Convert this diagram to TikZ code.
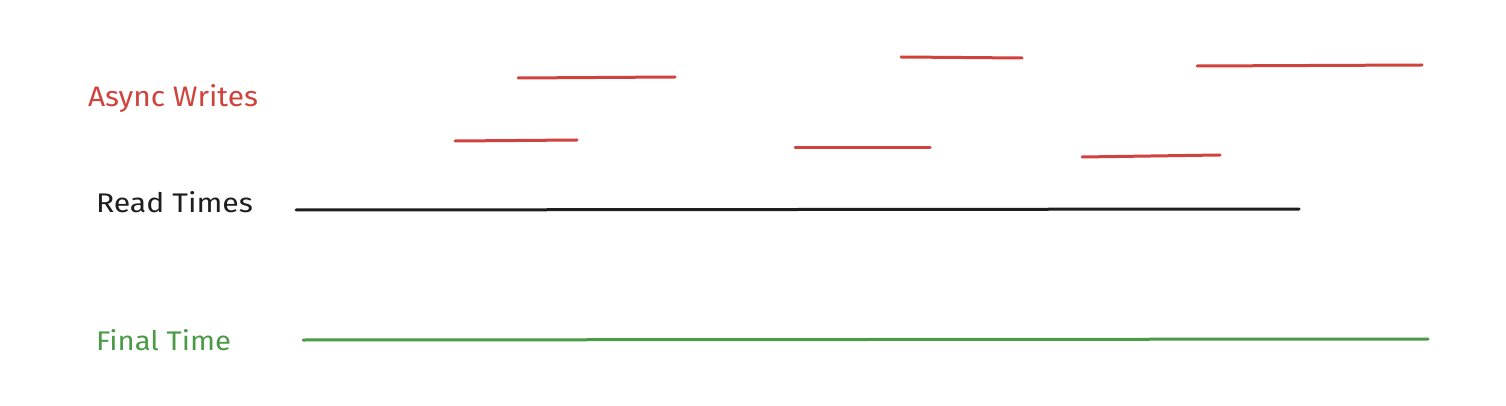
\documentclass[tikz,border=0pt]{standalone}
\usepackage{fontspec}
\setmainfont{Fira Sans}
\definecolor{wred}{HTML}{D0433D}
\definecolor{wgreen}{HTML}{4A9A46}
\definecolor{wblack}{HTML}{1E1E1E}
\tikzset{
  lbl/.style={anchor=base west, inner sep=0pt, outer sep=0pt},
  seg/.style={line width=3pt, line cap=round},
}
\begin{document}
\begin{tikzpicture}[x=1pt,y=-1pt]
\useasboundingbox (0,0) rectangle (1506,406);
\node[lbl, text=wred] (async) at (88,107) {\resizebox{170pt}{22pt}{Async Writes}};
\node[lbl, text=wblack] (read) at (96,213) {\resizebox{157pt}{21pt}{Read Times}};
\node[lbl, text=wgreen] (final) at (96,350) {\resizebox{135pt}{21pt}{Final Time}};
% async writes
\draw[seg, wred] (518,78) -- (675,77);
\draw[seg, wred] (901,57) -- (1022,58);
\draw[seg, wred] (1197,66) -- (1422,65);
\draw[seg, wred] (455,141) -- (577,140);
\draw[seg, wred] (795,148) -- (930,148);
\draw[seg, wred] (1082,157) -- (1220,155);
% read times
\draw[seg, wblack] (296,210) -- (1299,209);
% final time
\draw[seg, wgreen] (303,340) -- (1428,339);
\end{tikzpicture}
\end{document}
